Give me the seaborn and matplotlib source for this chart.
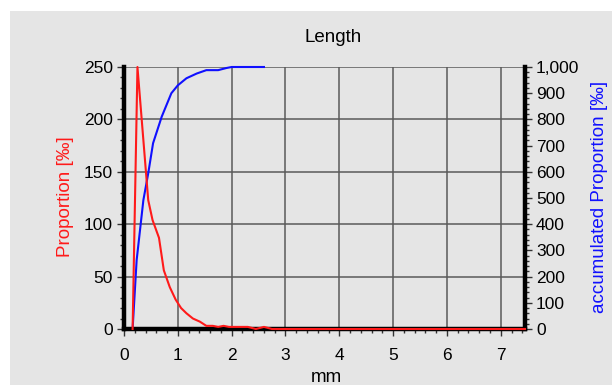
import numpy as np
import pandas as pd
import matplotlib
matplotlib.use("Agg")
import matplotlib.pyplot as plt
import seaborn as sns
from matplotlib.ticker import MultipleLocator, FuncFormatter
from matplotlib.patches import Rectangle

plt.rcParams['font.family'] = ['Liberation Sans', 'DejaVu Sans']

# Data
prop_x = [0.16, 0.25, 0.45, 0.53, 0.65, 0.74, 0.85, 0.96, 1.06, 1.16, 1.28, 1.41,
          1.53, 1.65, 1.75, 1.85, 1.95, 2.1, 2.3, 2.45, 2.6, 2.75, 3.0, 4.0, 5.0, 6.0, 7.0, 7.45]
prop_y = [0, 250, 123, 104, 87, 56, 40, 28, 20, 15, 10, 7,
          3, 3, 2, 3, 2, 2, 2, 0, 2, 0, 0, 0, 0, 0, 0, 0]
acc_x = [0.0, 0.16, 0.235, 0.36, 0.45, 0.54, 0.70, 0.88, 1.0, 1.16, 1.35, 1.53, 1.75, 1.9, 2.0, 2.6]
acc_y = [0, 0, 263, 492, 594, 709, 810, 900, 930, 957, 975, 988, 988, 996, 1000, 1000]

title = "Length"
xlabel = "mm"
ylabel_left = "Proportion [‰]"
ylabel_right = "accumulated Proportion [‰]"

df_p = pd.DataFrame({"x": prop_x, "y": prop_y})
df_a = pd.DataFrame({"x": acc_x, "y": acc_y})

W, H = 612, 385
fig = plt.figure(figsize=(W / 100, H / 100), dpi=100, facecolor="white")
bg = "#e5e5e5"
fig.patches.append(Rectangle((10 / W, 0), 1 - 10 / W, 1 - 11 / H, transform=fig.transFigure,
                             facecolor=bg, edgecolor="none", zorder=-10))

left, right, top, bottom = 124, 525, 67, 329
ax2 = fig.add_axes([left / W, 1 - bottom / H, (right - left) / W, (bottom - top) / H])
ax = ax2.twinx()
# ax2 is the right (accumulated) axis drawn underneath; ax the left one above
ax2.yaxis.tick_right()
ax2.yaxis.set_label_position("right")
ax.yaxis.tick_left()
ax.yaxis.set_label_position("left")
ax2.set_facecolor(bg)
ax.patch.set_visible(False)

ax.set_xlim(0, 7.45)
ax2.set_xlim(0, 7.45)
ax.set_ylim(0, 250)
ax2.set_ylim(0, 1000)

for a in (ax, ax2):
    a.xaxis.set_major_locator(MultipleLocator(1))
    a.xaxis.set_minor_locator(MultipleLocator(0.2))
ax.yaxis.set_major_locator(MultipleLocator(50))
ax.yaxis.set_minor_locator(MultipleLocator(10))
ax2.yaxis.set_major_locator(MultipleLocator(100))
ax2.yaxis.set_minor_locator(MultipleLocator(20))
ax2.yaxis.set_major_formatter(FuncFormatter(lambda v, p: f"{int(v):,}"))

ax2.xaxis.grid(True, which="major", color="#5a5a5a", linewidth=1.1)
ax2.set_axisbelow(True)
for yv in ax.get_yticks():
    if 0 < yv <= 250:
        ax2.axhline(yv * 4, color="#5a5a5a", linewidth=1.1, zorder=0.5)

for a in (ax, ax2):
    a.tick_params(which="major", direction="out", length=5, width=1, color="#333333",
                  labelsize=12.5, pad=3)
    a.tick_params(which="minor", direction="out", length=3, width=1, color="#333333")
    for s in a.spines.values():
        s.set_visible(False)
ax.tick_params(axis="x", which="both", bottom=False, labelbottom=False)
ax2.tick_params(axis="x", which="major", pad=9)

for s in ("left", "bottom", "right"):
    ax.spines[s].set_visible(True)
    ax.spines[s].set_linewidth(3.2)
    ax.spines[s].set_color("black")

sns.lineplot(data=df_a, x="x", y="y", ax=ax2, color="#1010ff", linewidth=1.5,
             estimator=None, sort=False, zorder=5, clip_on=False)
sns.lineplot(data=df_p, x="x", y="y", ax=ax, color="#ff1a1a", linewidth=1.5,
             estimator=None, sort=False, zorder=5, clip_on=False)
for a in (ax, ax2):
    a.set_xlabel("")
    a.set_ylabel("")

fig.text(333 / W, 1 - 38 / H, title, ha="center", va="center", fontsize=13.5)
fig.text(326 / W, 1 - 378 / H, xlabel, ha="center", va="center", fontsize=13.5)
fig.text(65 / W, 1 - 197 / H, ylabel_left, ha="center", va="center", rotation=90,
         fontsize=13.5, color="#ff1a1a")
fig.text(600 / W, 1 - 197 / H, ylabel_right, ha="center", va="center", rotation=90,
         fontsize=13.5, color="#1010ff")

fig.savefig("out.png", dpi=100, facecolor="white")
